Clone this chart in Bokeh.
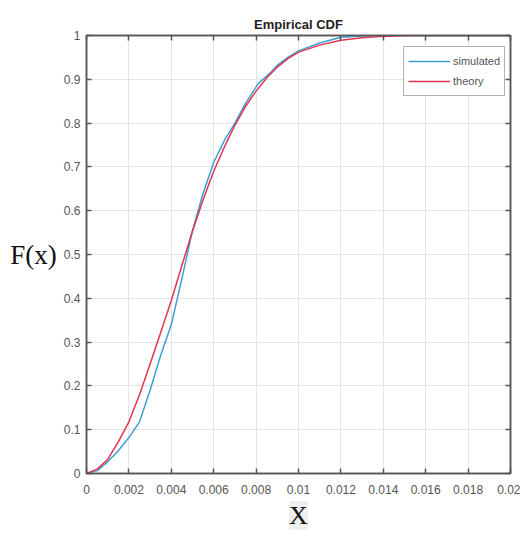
from bokeh.plotting import figure
from bokeh.models import Range1d, LinearAxis, FixedTicker, Legend, LegendItem, Title
from bokeh.embed import file_html
from bokeh.resources import INLINE

# ---- data ----
x_sim = [0.0, 0.0005, 0.001, 0.0015, 0.002, 0.0025, 0.003, 0.0035, 0.004, 0.0045,
         0.005, 0.0055, 0.006, 0.0065, 0.007, 0.0075, 0.0081, 0.0087, 0.009, 0.0095,
         0.010, 0.011, 0.012, 0.013, 0.014, 0.02]
f_sim = [0.0, 0.006, 0.027, 0.052, 0.082, 0.118, 0.19, 0.27, 0.34, 0.445,
         0.555, 0.64, 0.71, 0.76, 0.80, 0.845, 0.89, 0.916, 0.932, 0.95,
         0.965, 0.983, 0.996, 0.999, 1.0, 1.0]

x_th = [0.0, 0.0005, 0.001, 0.0015, 0.002, 0.0025, 0.003, 0.0035, 0.004, 0.0045,
        0.005, 0.0055, 0.006, 0.0065, 0.007, 0.0075, 0.008, 0.0085, 0.009, 0.0095,
        0.010, 0.011, 0.012, 0.013, 0.014, 0.015, 0.02]
f_th = [0.0, 0.01, 0.032, 0.072, 0.118, 0.18, 0.25, 0.322, 0.395, 0.475,
        0.553, 0.625, 0.69, 0.745, 0.795, 0.838, 0.873, 0.903, 0.928, 0.947,
        0.962, 0.978, 0.989, 0.995, 0.998, 1.0, 1.0]

x_ticks = [0, 0.002, 0.004, 0.006, 0.008, 0.01, 0.012, 0.014, 0.016, 0.018, 0.02]
x_tick_labels = ["0", "0.002", "0.004", "0.006", "0.008", "0.01", "0.012", "0.014", "0.016", "0.018", "0.02"]
y_ticks = [0, 0.1, 0.2, 0.3, 0.4, 0.5, 0.6, 0.7, 0.8, 0.9, 1]
y_tick_labels = ["0", "0.1", "0.2", "0.3", "0.4", "0.5", "0.6", "0.7", "0.8", "0.9", "1"]

series_names = ["simulated", "theory"]
title_text = "Empirical CDF"
ylabel_text = "F(x)"
xlabel_text = "X"

BLUE = "#3d9fd4"
RED = "#e2334f"
AX = "#555555"
TICKC = "#555555"

p = figure(width=520, height=535, output_backend="svg", toolbar_location=None,
           x_range=Range1d(0, 0.02), y_range=Range1d(0, 1),
           min_border_left=86, min_border_right=10, min_border_top=35, min_border_bottom=62,
           x_axis_location=None, y_axis_location=None)
p.outline_line_color = AX
p.outline_line_width = 1.5
p.background_fill_color = "white"
p.border_fill_color = "white"

p.title.text = title_text
p.title.align = "center"
p.title.text_font = "Liberation Sans"
p.title.text_font_size = "13px"
p.title.text_font_style = "bold"
p.title.text_color = "#222222"
p.title.standoff = 8


def make_axis(ticks, labels, show_labels, standoff=7):
    ax = LinearAxis(ticker=FixedTicker(ticks=ticks))
    ax.major_label_overrides = {t: l for t, l in zip(ticks, labels)}
    ax.axis_line_color = AX
    ax.axis_line_width = 1.5
    ax.major_tick_line_color = AX
    ax.major_tick_line_width = 1.5
    ax.major_tick_in = 5
    ax.major_tick_out = 0
    ax.minor_tick_line_color = None
    if show_labels:
        ax.major_label_text_font = "Liberation Sans"
        ax.major_label_text_font_size = "12px"
        ax.major_label_text_color = TICKC
        ax.major_label_standoff = standoff
    else:
        ax.major_label_text_font_size = "0px"
        ax.major_label_standoff = 0
    return ax


xax = make_axis(x_ticks, x_tick_labels, True, standoff=11)
p.add_layout(xax, "below")

xt = Title(text=xlabel_text, align="center", text_font="Liberation Serif",
           text_font_size="26px", text_font_style="normal", text_color="#111111",
           background_fill_color="#efefef", offset=3, standoff=5)
p.add_layout(xt, "below")

yax = make_axis(y_ticks, y_tick_labels, True, standoff=6)
yax.axis_label = ylabel_text
yax.axis_label_orientation = "horizontal"
yax.axis_label_text_font = "Liberation Serif"
yax.axis_label_text_font_size = "27px"
yax.axis_label_text_font_style = "normal"
yax.axis_label_text_color = "#111111"
yax.axis_label_standoff = 4
p.add_layout(yax, "left")

p.add_layout(make_axis(x_ticks, x_tick_labels, False), "above")
p.add_layout(make_axis(y_ticks, y_tick_labels, False), "right")

p.xgrid.ticker = FixedTicker(ticks=x_ticks)
p.ygrid.ticker = FixedTicker(ticks=y_ticks)
for g in (p.xgrid[0], p.ygrid[0]):
    g.grid_line_color = "#e4e4e4"
    g.grid_line_width = 1

r1 = p.line(x_sim, f_sim, line_color=BLUE, line_width=1.5)
r2 = p.line(x_th, f_th, line_color=RED, line_width=1.5)

legend = Legend(items=[LegendItem(label=series_names[0], renderers=[r1]),
                       LegendItem(label=series_names[1], renderers=[r2])],
                location=(317, 377), margin=0, padding=4, spacing=0,
                glyph_width=42, glyph_height=20, label_height=20, label_standoff=3,
                label_text_font="Liberation Sans", label_text_font_size="11px",
                label_text_color="#555555",
                border_line_color="#666666", border_line_width=1.5,
                background_fill_color="white", background_fill_alpha=1.0)
p.add_layout(legend)

open("out.html", "w").write(file_html(p, INLINE))
